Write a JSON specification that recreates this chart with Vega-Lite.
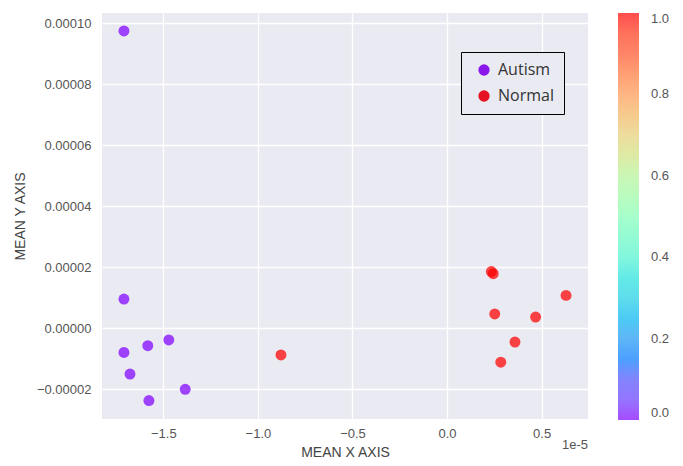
{
  "$schema": "https://vega.github.io/schema/vega-lite/v6.json",
  "width": 486,
  "height": 406,
  "autosize": "none",
  "padding": {"left": 102, "top": 13, "right": 95, "bottom": 47},
  "background": "white",
  "config": {
    "view": {"fill": "#eaeaf2", "stroke": null},
    "axis": {
      "domain": false,
      "ticks": false,
      "gridColor": "white",
      "gridWidth": 1.3,
      "labelColor": "#555555",
      "labelFont": "Liberation Sans",
      "labelFontSize": 13,
      "titleFont": "Liberation Sans",
      "titleFontSize": 14,
      "titleFontWeight": "normal",
      "titleColor": "#444444"
    }
  },
  "title": {
    "text": "1e-5",
    "orient": "bottom",
    "anchor": "end",
    "frame": "group",
    "font": "Liberation Sans",
    "fontSize": 13,
    "fontWeight": "normal",
    "color": "#555555",
    "offset": -20
  },
  "data": {
    "values": [
      {"x": -1.708e-5, "y": 9.75e-5, "label": 0, "class": "Autism"},
      {"x": -1.708e-5, "y": 0.96e-5, "label": 0, "class": "Autism"},
      {"x": -1.708e-5, "y": -0.79e-5, "label": 0, "class": "Autism"},
      {"x": -1.582e-5, "y": -0.57e-5, "label": 0, "class": "Autism"},
      {"x": -1.471e-5, "y": -0.38e-5, "label": 0, "class": "Autism"},
      {"x": -1.676e-5, "y": -1.50e-5, "label": 0, "class": "Autism"},
      {"x": -1.384e-5, "y": -2.00e-5, "label": 0, "class": "Autism"},
      {"x": -1.576e-5, "y": -2.37e-5, "label": 0, "class": "Autism"},
      {"x": -0.878e-5, "y": -0.875e-5, "label": 1, "class": "Normal"},
      {"x": 0.234e-5, "y": 1.86e-5, "label": 1, "class": "Normal"},
      {"x": 0.244e-5, "y": 1.79e-5, "label": 1, "class": "Normal"},
      {"x": 0.629e-5, "y": 1.08e-5, "label": 1, "class": "Normal"},
      {"x": 0.252e-5, "y": 0.47e-5, "label": 1, "class": "Normal"},
      {"x": 0.468e-5, "y": 0.37e-5, "label": 1, "class": "Normal"},
      {"x": 0.359e-5, "y": -0.45e-5, "label": 1, "class": "Normal"},
      {"x": 0.284e-5, "y": -1.11e-5, "label": 1, "class": "Normal"}
    ]
  },
  "encoding": {
    "x": {
      "field": "x",
      "type": "quantitative",
      "scale": {"domain": [-1.824e-5, 0.745e-5], "nice": false, "zero": false},
      "axis": {
        "title": "MEAN X AXIS",
        "values": [-1.5e-5, -1e-5, -0.5e-5, 0, 0.5e-5],
        "labelExpr": "format(datum.value * 1e5, '.1f')",
        "labelPadding": 8,
        "titlePadding": 5
      }
    },
    "y": {
      "field": "y",
      "type": "quantitative",
      "scale": {"domain": [-2.974e-5, 1.034e-4], "nice": false, "zero": false},
      "axis": {
        "title": "MEAN Y AXIS",
        "values": [-2e-5, 0, 2e-5, 4e-5, 6e-5, 8e-5, 1e-4],
        "format": ".5f",
        "labelPadding": 11,
        "titlePadding": 9
      }
    }
  },
  "layer": [
    {
      "mark": {"type": "circle", "size": 120, "opacity": 0.72},
      "encoding": {
        "color": {
          "field": "label",
          "type": "quantitative",
          "scale": {
            "domain": [0, 0.1, 0.2, 0.3, 0.4, 0.5, 0.6, 0.7, 0.8, 0.9, 1],
            "range": ["#8000ff", "#4d4ffc", "#1a96f3", "#1acee3", "#4df3ce", "#80ffb4", "#b3f396", "#e6ce74", "#ff964f", "#ff4f28", "#ff0000"]
          },
          "legend": {
            "title": null,
            "direction": "vertical",
            "orient": "right",
            "offset": 30,
            "gradientLength": 407,
            "gradientThickness": 21,
            "gradientOpacity": 0.7,
            "gradientStrokeWidth": 0,
            "values": [0, 0.2, 0.4, 0.6, 0.8, 1],
            "format": ".1f",
            "labelFont": "Liberation Sans",
            "labelFontSize": 13,
            "labelColor": "#555555",
            "labelOffset": 12,
            "labelBaseline": "middle",
            "labelOverlap": false
          }
        }
      }
    },
    {
      "mark": {"type": "circle", "size": 120, "opacity": 0},
      "encoding": {
        "fill": {
          "field": "class",
          "type": "nominal",
          "scale": {"domain": ["Autism", "Normal"], "range": ["#8a17ea", "#e5121f"]},
          "legend": {
            "title": null,
            "orient": "none",
            "legendX": 359,
            "legendY": 39,
            "padding": 10,
            "strokeColor": "black",
            "fillColor": "#eaeaf2",
            "symbolType": "circle",
            "symbolSize": 127,
            "symbolOpacity": 1,
            "symbolStrokeWidth": 0,
            "symbolOffset": 5,
            "labelFont": "Open Sans",
            "labelFontSize": 16,
            "labelColor": "#333333",
            "labelOffset": 6,
            "rowPadding": 10
          }
        }
      }
    }
  ]
}
